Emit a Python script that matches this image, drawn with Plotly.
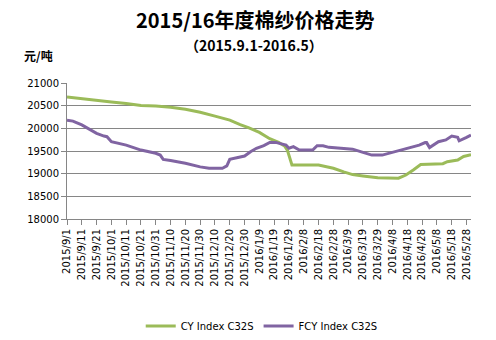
import plotly.graph_objects as go

# ---- data ----
cy_dates = ["2015-09-01", "2015-09-11", "2015-09-21", "2015-10-01", "2015-10-11", "2015-10-21",
            "2015-10-31", "2015-11-10", "2015-11-20", "2015-11-30", "2015-12-10", "2015-12-20",
            "2015-12-27", "2016-01-02", "2016-01-09", "2016-01-16", "2016-01-22", "2016-01-26",
            "2016-01-28", "2016-01-31", "2016-02-18", "2016-02-28", "2016-03-06", "2016-03-12",
            "2016-03-19", "2016-03-29", "2016-04-12", "2016-04-17", "2016-04-22", "2016-04-27",
            "2016-05-12", "2016-05-15", "2016-05-22", "2016-05-26", "2016-05-31"]
cy_values = [20690, 20650, 20625, 20580, 20550, 20505,
             20490, 20465, 20420, 20355, 20270, 20180,
             20080, 20010, 19910, 19770, 19690, 19610,
             19510, 19190, 19190, 19120, 19040, 18980,
             18950, 18910, 18900, 18970, 19080, 19200,
             19220, 19265, 19300, 19380, 19420]

fcy_dates = ["2015-09-01", "2015-09-05", "2015-09-11", "2015-09-19", "2015-09-21", "2015-09-26",
             "2015-09-28", "2015-10-01", "2015-10-11", "2015-10-21", "2015-10-31", "2015-11-03",
             "2015-11-05", "2015-11-10", "2015-11-20", "2015-11-30", "2015-12-06", "2015-12-15",
             "2015-12-18", "2015-12-20", "2015-12-27", "2015-12-30", "2016-01-03", "2016-01-07",
             "2016-01-12", "2016-01-16", "2016-01-20", "2016-01-25", "2016-01-27", "2016-01-29",
             "2016-02-01", "2016-02-05", "2016-02-14", "2016-02-17", "2016-02-21", "2016-02-25",
             "2016-03-12", "2016-03-19", "2016-03-25", "2016-04-01", "2016-04-10", "2016-04-19",
             "2016-04-26", "2016-04-30", "2016-05-01", "2016-05-03", "2016-05-09", "2016-05-14",
             "2016-05-18", "2016-05-22", "2016-05-23", "2016-05-28", "2016-05-31"]
fcy_values = [20180, 20160, 20075, 19925, 19890, 19830,
              19815, 19705, 19630, 19520, 19450, 19410,
              19315, 19290, 19230, 19150, 19120, 19120,
              19170, 19315, 19360, 19390, 19485, 19560,
              19620, 19690, 19690, 19655, 19630, 19560,
              19595, 19520, 19520, 19615, 19615, 19580,
              19540, 19470, 19410, 19410, 19485, 19560,
              19630, 19685, 19685, 19575, 19705, 19745,
              19830, 19800, 19725, 19800, 19850]

tick_dates = ["2015-09-01", "2015-09-11", "2015-09-21", "2015-10-01", "2015-10-11", "2015-10-21",
              "2015-10-31", "2015-11-10", "2015-11-20", "2015-11-30", "2015-12-10", "2015-12-20",
              "2015-12-30", "2016-01-09", "2016-01-19", "2016-01-29", "2016-02-08", "2016-02-18",
              "2016-02-28", "2016-03-09", "2016-03-19", "2016-03-29", "2016-04-08", "2016-04-18",
              "2016-04-28", "2016-05-08", "2016-05-18", "2016-05-28"]
tick_labels = ["2015/9/1", "2015/9/11", "2015/9/21", "2015/10/1", "2015/10/11", "2015/10/21",
               "2015/10/31", "2015/11/10", "2015/11/20", "2015/11/30", "2015/12/10", "2015/12/20",
               "2015/12/30", "2016/1/9", "2016/1/19", "2016/1/29", "2016/2/8", "2016/2/18",
               "2016/2/28", "2016/3/9", "2016/3/19", "2016/3/29", "2016/4/8", "2016/4/18",
               "2016/4/28", "2016/5/8", "2016/5/18", "2016/5/28"]

series_names = ["CY Index C32S", "FCY Index C32S"]
title_text = "2015/16年度棉纱价格走势"
subtitle_text = "（2015.9.1-2016.5）"
unit_text = "元/吨"

# ---- figure ----
fig = go.Figure()
fig.add_trace(go.Scatter(x=cy_dates, y=cy_values, mode="lines", name=series_names[0],
                         line=dict(color="#9BBB59", width=3)))
fig.add_trace(go.Scatter(x=fcy_dates, y=fcy_values, mode="lines", name=series_names[1],
                         line=dict(color="#8064A2", width=3)))

font_main = "DejaVu Sans, Verdana, sans-serif"
font_cjk = "Noto Sans CJK SC, sans-serif"

fig.update_layout(
    width=496, height=340,
    margin=dict(l=67, r=25, t=83, b=121, autoexpand=False),
    paper_bgcolor="white", plot_bgcolor="white",
    showlegend=True,
    legend=dict(orientation="h", x=0.482, xanchor="center", y=-0.786, yanchor="middle",
                font=dict(family=font_main, size=10, color="#000000"),
                itemwidth=30, bgcolor="rgba(0,0,0,0)"),
    xaxis=dict(type="date", range=["2015-09-01", "2016-05-31"],
               tickvals=tick_dates, ticktext=tick_labels, tickangle=-90,
               tickfont=dict(family=font_main, size=10, color="#000000"),
               showgrid=False, showline=True, linecolor="#868686", linewidth=1,
               ticks="outside", ticklen=5, tickcolor="#868686", zeroline=False),
    yaxis=dict(range=[18000, 21000], dtick=500, tick0=18000,
               tickfont=dict(family=font_main, size=10, color="#000000"),
               showgrid=True, gridcolor="#868686", gridwidth=1,
               showline=True, linecolor="#868686", linewidth=1,
               ticks="outside", ticklen=5, tickcolor="#868686", zeroline=False,
               tickformat="d"),
    annotations=[
        dict(text="<b>" + title_text + "</b>", xref="paper", yref="paper",
             x=0.467, y=1.466, xanchor="center", yanchor="middle", showarrow=False,
             font=dict(family=font_cjk, size=20, color="#000000")),
        dict(text="<b>" + subtitle_text + "</b>", xref="paper", yref="paper",
             x=0.463, y=1.28, xanchor="center", yanchor="middle", showarrow=False,
             font=dict(family=font_cjk, size=14, color="#000000")),
        dict(text="<b>" + unit_text + "</b>", xref="paper", yref="paper",
             x=-0.112, y=1.201, xanchor="left", yanchor="middle", showarrow=False,
             font=dict(family=font_cjk, size=12, color="#000000")),
    ],
)

fig.write_html("out.html")
